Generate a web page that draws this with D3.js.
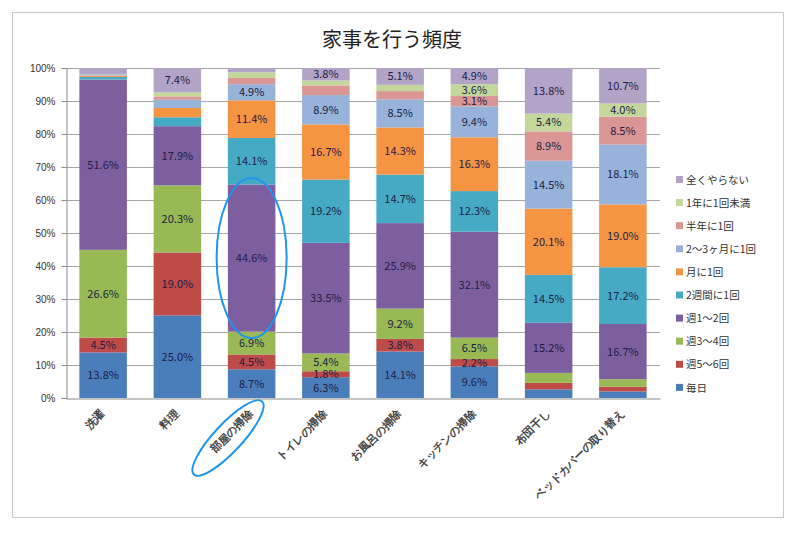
<!DOCTYPE html>
<html>
<head>
<meta charset="utf-8">
<script src="https://cdn.jsdelivr.net/npm/d3@7"></script>
<style>
  body { margin: 0; background: #fff; }
  svg { display: block; font-family: "Noto Sans CJK JP", "Noto Sans", sans-serif; }
</style>
</head>
<body>
<div id="chart"></div>
<script>
// categories (x axis)
const categories = ["洗濯", "料理", "部屋の掃除", "トイレの掃除", "お風呂の掃除", "キッチンの掃除", "布団干し", "ベッドカバーの取り替え"];

// series, bottom to top
const seriesNames = ["毎日", "週5～6回", "週3～4回", "週1～2回", "2週間に1回", "月に1回", "2～3ヶ月に1回", "半年に1回", "1年に1回未満", "全くやらない"];

// values (%) per series, one per category
const daily      = [13.8, 25.0, 8.7, 6.3, 14.1, 9.6, 2.6, 2.0];
const week56     = [4.5, 19.0, 4.5, 1.8, 3.8, 2.2, 2.0, 1.4];
const week34     = [26.6, 20.3, 6.9, 5.4, 9.2, 6.5, 3.0, 2.3];
const week12     = [51.6, 17.9, 44.6, 33.5, 25.9, 32.1, 15.2, 16.7];
const biweekly   = [0.8, 2.7, 14.1, 19.2, 14.7, 12.3, 14.5, 17.2];
const monthly    = [0.3, 2.8, 11.4, 16.7, 14.3, 16.3, 20.1, 19.0];
const months23   = [0.2, 2.5, 4.9, 8.9, 8.5, 9.4, 14.5, 18.1];
const halfYear   = [0.1, 1.0, 1.9, 2.9, 2.5, 3.1, 8.9, 8.5];
const underYear  = [0.1, 1.2, 1.7, 1.5, 1.9, 3.6, 5.4, 4.0];
const never      = [2.0, 7.4, 1.3, 3.8, 5.1, 4.9, 13.8, 10.7];
const seriesValues = [daily, week56, week34, week12, biweekly, monthly, months23, halfYear, underYear, never];

// segments without a data label in the original (series indexes per category)
const unlabelled = {
  "洗濯": [4, 5, 6, 7, 8, 9],
  "料理": [4, 5, 6, 7, 8],
  "部屋の掃除": [7, 8, 9],
  "トイレの掃除": [7, 8],
  "お風呂の掃除": [7, 8],
  "布団干し": [0, 1, 2],
  "ベッドカバーの取り替え": [0, 1, 2]
};

const yTicks = [0, 0.1, 0.2, 0.3, 0.4, 0.5, 0.6, 0.7, 0.8, 0.9, 1];

const colors = ["#4a7ebb", "#be4b48", "#98b954", "#7d5fa0", "#46aac5", "#f59443",
                "#97b3da", "#da9694", "#c4d79b", "#b3a3c7"];

const width = 800, height = 533;
const margin = { top: 68, left: 66, right: 140, bottom: 135 };

const svg = d3.select('#chart')
  .append('svg')
    .attr('width', width)
    .attr('height', height);

// chart frame
svg.append('rect')
    .attr('x', 12.5).attr('y', 12.5)
    .attr('width', 771).attr('height', 505)
    .attr('fill', '#fff')
    .attr('stroke', '#c8c8c8');

// title
svg.append('text')
    .attr('x', 392)
    .attr('y', 47)
    .attr('text-anchor', 'middle')
    .style('font-size', '20px')
    .attr('fill', '#222')
    .text('家事を行う頻度');

// build table and stack
const table = categories.map((c, i) => {
  const row = { category: c };
  seriesNames.forEach((s, j) => { row[s] = seriesValues[j][i]; });
  return row;
});

const stacked = d3.stack()
    .keys(seriesNames)
    .offset(d3.stackOffsetExpand)(table);

const x = d3.scaleBand()
    .domain(categories)
    .range([margin.left, width - margin.right - 0])
    .paddingInner(0.36)
    .paddingOuter(0.18);

const y = d3.scaleLinear()
    .domain([0, 1])
    .range([height - margin.bottom, margin.top]);

// gridlines
svg.append('g')
  .selectAll('line')
  .data(yTicks.slice(1))
  .enter()
  .append('line')
    .attr('x1', margin.left)
    .attr('x2', width - margin.right)
    .attr('y1', d => Math.round(y(d)) + 0.5)
    .attr('y2', d => Math.round(y(d)) + 0.5)
    .attr('stroke', '#a6a6a6');

// bars
const layers = svg.append('g')
  .selectAll('g')
  .data(stacked)
  .enter()
  .append('g')
    .attr('fill', (d, i) => colors[i]);

layers.selectAll('rect')
  .data(d => d)
  .enter()
  .append('rect')
    .attr('x', d => x(d.data.category))
    .attr('y', d => y(d[1]))
    .attr('width', x.bandwidth())
    .attr('height', d => y(d[0]) - y(d[1]));

// data labels
stacked.forEach((layer, j) => {
  svg.append('g')
    .selectAll('text')
    .data(layer.filter((d, i) => !(unlabelled[categories[i]] || []).includes(j)))
    .enter()
    .append('text')
      .attr('x', d => x(d.data.category) + x.bandwidth() / 2)
      .attr('y', d => (y(d[0]) + y(d[1])) / 2)
      .attr('dy', '0.36em')
      .attr('text-anchor', 'middle')
      .style('font-size', '11px')
      .attr('fill', '#1d1d45')
      .text(d => d.data[seriesNames[j]].toFixed(1) + '%');
});

// y axis
const yAxis = d3.axisLeft(y)
    .tickValues(yTicks)
    .tickFormat(d3.format('.0%'))
    .tickSize(5)
    .tickPadding(6);

const yG = svg.append('g')
    .attr('transform', `translate(${margin.left + 0.5},0)`)
    .call(yAxis);
yG.select('.domain').attr('stroke', '#8c8c8c');
yG.selectAll('.tick line').attr('stroke', '#8c8c8c');
yG.selectAll('text')
    .style('font-size', '10px')
    .style('font-family', '"Liberation Sans", Arial, sans-serif')
    .attr('fill', '#333');

// x axis
const xAxis = d3.axisBottom(x).tickSize(0).tickPadding(0);
const xG = svg.append('g')
    .attr('transform', `translate(0,${height - margin.bottom + 0.5})`)
    .call(xAxis);
xG.select('.domain').attr('stroke', '#8c8c8c');
xG.selectAll('text')
    .style('font-size', '11px')
    .style('font-weight', 'bold')
    .attr('fill', '#444')
    .style('text-anchor', 'end')
    .attr('dy', '0')
    .attr('transform', 'translate(2,16) rotate(-45)');

// legend
const legend = svg.append('g')
    .attr('transform', 'translate(676,180)');

seriesNames.slice().reverse().forEach((name, i) => {
  const row = legend.append('g')
      .attr('transform', `translate(0, ${i * 23.1})`);
  row.append('rect')
      .attr('x', 0).attr('y', -4)
      .attr('width', 7).attr('height', 7)
      .attr('fill', colors[seriesNames.length - 1 - i]);
  row.append('text')
      .attr('x', 10)
      .attr('y', 0)
      .attr('dy', '0.35em')
      .style('font-size', '10.5px')
      .attr('fill', '#333')
      .text(name);
});

// blue annotation ellipses
svg.append('ellipse')
    .attr('cx', x('部屋の掃除') + x.bandwidth() / 2)
    .attr('cy', 258)
    .attr('rx', 35)
    .attr('ry', 80)
    .attr('fill', 'none')
    .attr('stroke', '#1e96f0')
    .attr('stroke-width', 2);

svg.append('ellipse')
    .attr('transform', 'translate(228,438) rotate(-47)')
    .attr('rx', 50)
    .attr('ry', 14)
    .attr('fill', 'none')
    .attr('stroke', '#1e96f0')
    .attr('stroke-width', 2);
</script>
</body>
</html>
